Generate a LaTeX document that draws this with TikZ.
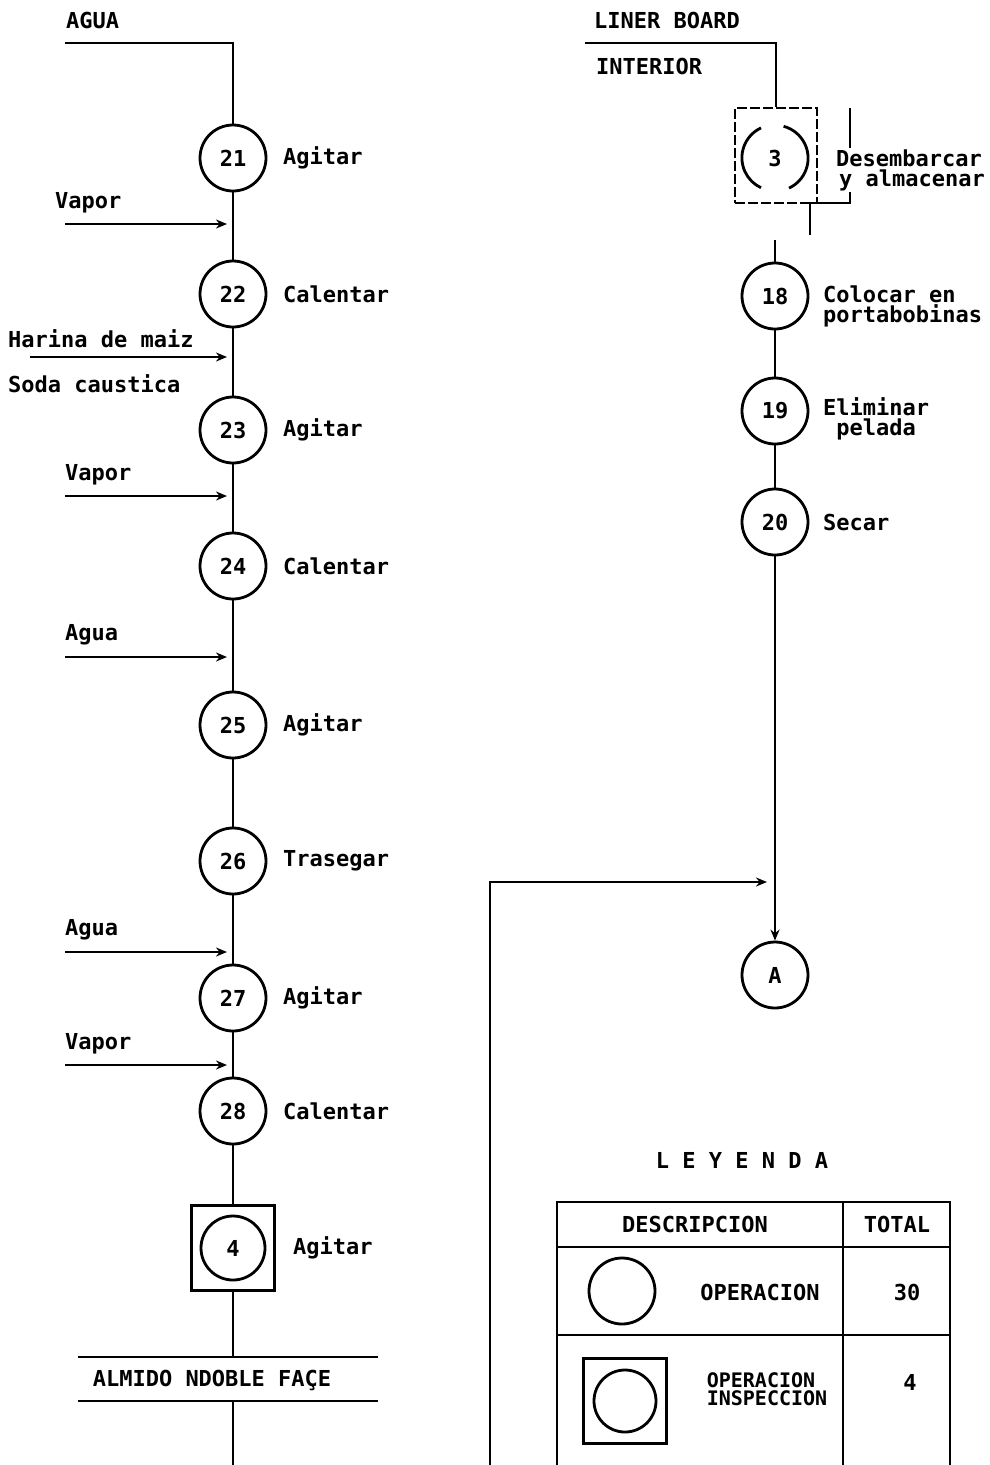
\documentclass[tikz,border=0pt]{standalone}
\usepackage{fontspec}
\setmainfont{DejaVu Sans Mono}
\usetikzlibrary{arrows.meta}
\newcommand{\dmfont}{\fontsize{22}{20}\selectfont\bfseries}
\begin{document}
\begin{tikzpicture}[x=1pt,y=-1pt,
  every node/.style={font=\dmfont},
  op/.style={circle,draw,line width=2.8pt,minimum size=66pt,inner sep=0pt},
  opbox/.style={rectangle,draw,line width=2.2pt,minimum width=83pt,minimum height=85pt,inner sep=0pt},
  lbl/.style={anchor=west,align=left,inner sep=0pt},
  ln/.style={line width=2.3pt},
  tbl/.style={line width=2pt},
  arr/.style={ln,-{Stealth[length=11pt,width=9pt]}}]
\useasboundingbox (0,0) rectangle (990,1465);
\fill[white] (0,0) rectangle (990,1465);

% ---------------- left column ----------------
\node[lbl] (tagua) at (66,20) {AGUA};
\coordinate (aguaS) at (65,43);

\node[op] (c21) at (233,158) {21};
\node[lbl] (l21) at (283,158) {Agitar};
\node[op] (c22) at (233,294) {22};
\node[lbl] (l22) at (283,294) {Calentar};
\node[op] (c23) at (233,430) {23};
\node[lbl] (l23) at (283,430) {Agitar};
\node[op] (c24) at (233,566) {24};
\node[lbl] (l24) at (283,566) {Calentar};
\node[op] (c25) at (233,725) {25};
\node[lbl] (l25) at (283,725) {Agitar};
\node[op] (c26) at (233,861) {26};
\node[lbl] (l26) at (283,861) {Trasegar};
\node[op] (c27) at (233,998) {27};
\node[lbl] (l27) at (283,998) {Agitar};
\node[op] (c28) at (233,1111) {28};
\node[lbl] (l28) at (283,1111) {Calentar};
\node[opbox] (b4) at (233,1248) {};
\node[op,minimum size=64pt] (c4) at (233,1248) {4};
\node[lbl] (l4) at (293,1248) {Agitar};

\draw[ln] (aguaS) -| (c21.north);
\draw[ln] (c21) -- (c22);
\draw[ln] (c22) -- (c23);
\draw[ln] (c23) -- (c24);
\draw[ln] (c24) -- (c25);
\draw[ln] (c25) -- (c26);
\draw[ln] (c26) -- (c27);
\draw[ln] (c27) -- (c28);
\draw[ln] (c28) -- (b4);

% inputs
\node[lbl] (tv1) at (55,203) {Vapor};
\coordinate (v1s) at (65,224); \coordinate (v1e) at (227,224);
\draw[arr] (v1s) -- (v1e);
\node[lbl] (th) at (8,339) {Harina de maiz};
\node[lbl] (ts) at (8,384) {Soda caustica};
\coordinate (hs) at (30,357); \coordinate (he) at (227,357);
\draw[arr] (hs) -- (he);
\node[lbl] (tv2) at (65,475) {Vapor};
\coordinate (v2s) at (65,496); \coordinate (v2e) at (227,496);
\draw[arr] (v2s) -- (v2e);
\node[lbl] (ta2) at (65,635) {Agua};
\coordinate (a2s) at (65,657); \coordinate (a2e) at (227,657);
\draw[arr] (a2s) -- (a2e);
\node[lbl] (ta3) at (65,930) {Agua};
\coordinate (a3s) at (65,952); \coordinate (a3e) at (227,952);
\draw[arr] (a3s) -- (a3e);
\node[lbl] (tv3) at (65,1044) {Vapor};
\coordinate (v3s) at (65,1065); \coordinate (v3e) at (227,1065);
\draw[arr] (v3s) -- (v3e);

% almidon
\coordinate (alT) at (233,1357);
\coordinate (alB) at (233,1401);
\coordinate (alTL) at (78,1357); \coordinate (alTR) at (378,1357);
\coordinate (alBL) at (78,1401); \coordinate (alBR) at (378,1401);
\draw[ln] (b4) -- (alT);
\draw[tbl] (alTL) -- (alTR);
\draw[tbl] (alBL) -- (alBR);
\node (tal) at (212,1380) {ALMIDO NDOBLE FAÇE};
\coordinate (lbot) at (233,1465);
\draw[ln] (alB) -- (lbot);

% ---------------- right column ----------------
\node[lbl] (tlb) at (594,20) {LINER BOARD};
\node[lbl] (tint) at (596,66) {INTERIOR};
\coordinate (lbS) at (585,43);
\node[rectangle,draw,line width=2pt,dash pattern=on 10pt off 3pt,minimum width=82pt,minimum height=95pt,inner sep=0pt] (b3) at (776,155.5) {};
\draw[ln] (lbS) -| (b3.north);
\node[circle,minimum size=66pt,inner sep=0pt] (c3) at (775,158) {3};
\draw[line width=2.8pt] (c3.115) arc[start angle=115,end angle=245,radius=33pt];
\draw[line width=2.8pt] (c3.-65) arc[start angle=-65,end angle=75,radius=33pt];
\coordinate (k1) at (850,108); \coordinate (k2) at (850,203);
\coordinate (k3) at (810,203); \coordinate (k4) at (810,235);
\draw[tbl] (k1) -- (k2) -- (k3) -- (k4);
\node[lbl,fill=white,inner sep=1pt] (l3) at (835,170) {Desembarcar\\\hspace{3pt}y almacenar};

\node[op] (c18) at (775,296) {18};
\node[lbl] (l18) at (823,306) {Colocar en\\portabobinas};
\node[op] (c19) at (775,411) {19};
\node[lbl] (l19) at (823,419) {Eliminar\\~pelada};
\node[op] (c20) at (775,522) {20};
\node[lbl] (l20) at (823,522) {Secar};
\node[op] (cA) at (775,975) {A};

\coordinate (r1) at (775,240);
\draw[ln] (r1) -- (c18);
\draw[ln] (c18) -- (c19);
\draw[ln] (c19) -- (c20);
\draw[arr] (c20) -- (cA);

\coordinate (hb) at (490,1465);
\coordinate (hc) at (490,882);
\coordinate (hr) at (767,882);
\draw[arr] (hb) -- (hc) -- (hr);

% ---------------- legend ----------------
\node[font=\fontsize{22}{22}\selectfont\bfseries] (tley) at (742,1160) {L E Y E N D A};
\coordinate (tTL) at (557,1202); \coordinate (tTR) at (950,1202);
\coordinate (tH1) at (557,1247); \coordinate (tH2) at (950,1247);
\coordinate (tR1) at (557,1335); \coordinate (tR2) at (950,1335);
\coordinate (tBL) at (557,1465); \coordinate (tBR) at (950,1465);
\coordinate (tDT) at (843,1202); \coordinate (tDB) at (843,1465);
\draw[tbl] (tBL) -- (tTL) -- (tTR) -- (tBR);
\draw[tbl] (tH1) -- (tH2);
\draw[tbl] (tR1) -- (tR2);
\draw[tbl] (tDT) -- (tDB);
\node (hd1) at (695,1224) {DESCRIPCION};
\node (hd2) at (897,1224) {TOTAL};
\node[op] (lg1) at (622,1291) {};
\node (lt1) at (760,1292) {OPERACION};
\node (lv1) at (907,1292) {30};
\node[opbox] (lgb) at (625,1401) {};
\node[op,minimum size=62pt] (lg2) at (625,1401) {};
\node[align=left,font=\fontsize{20}{18}\selectfont\bfseries,inner sep=0pt] (lt2) at (767,1389) {OPERACION\\INSPECCION};
\node (lv2) at (910,1382) {4};
\end{tikzpicture}
\end{document}
